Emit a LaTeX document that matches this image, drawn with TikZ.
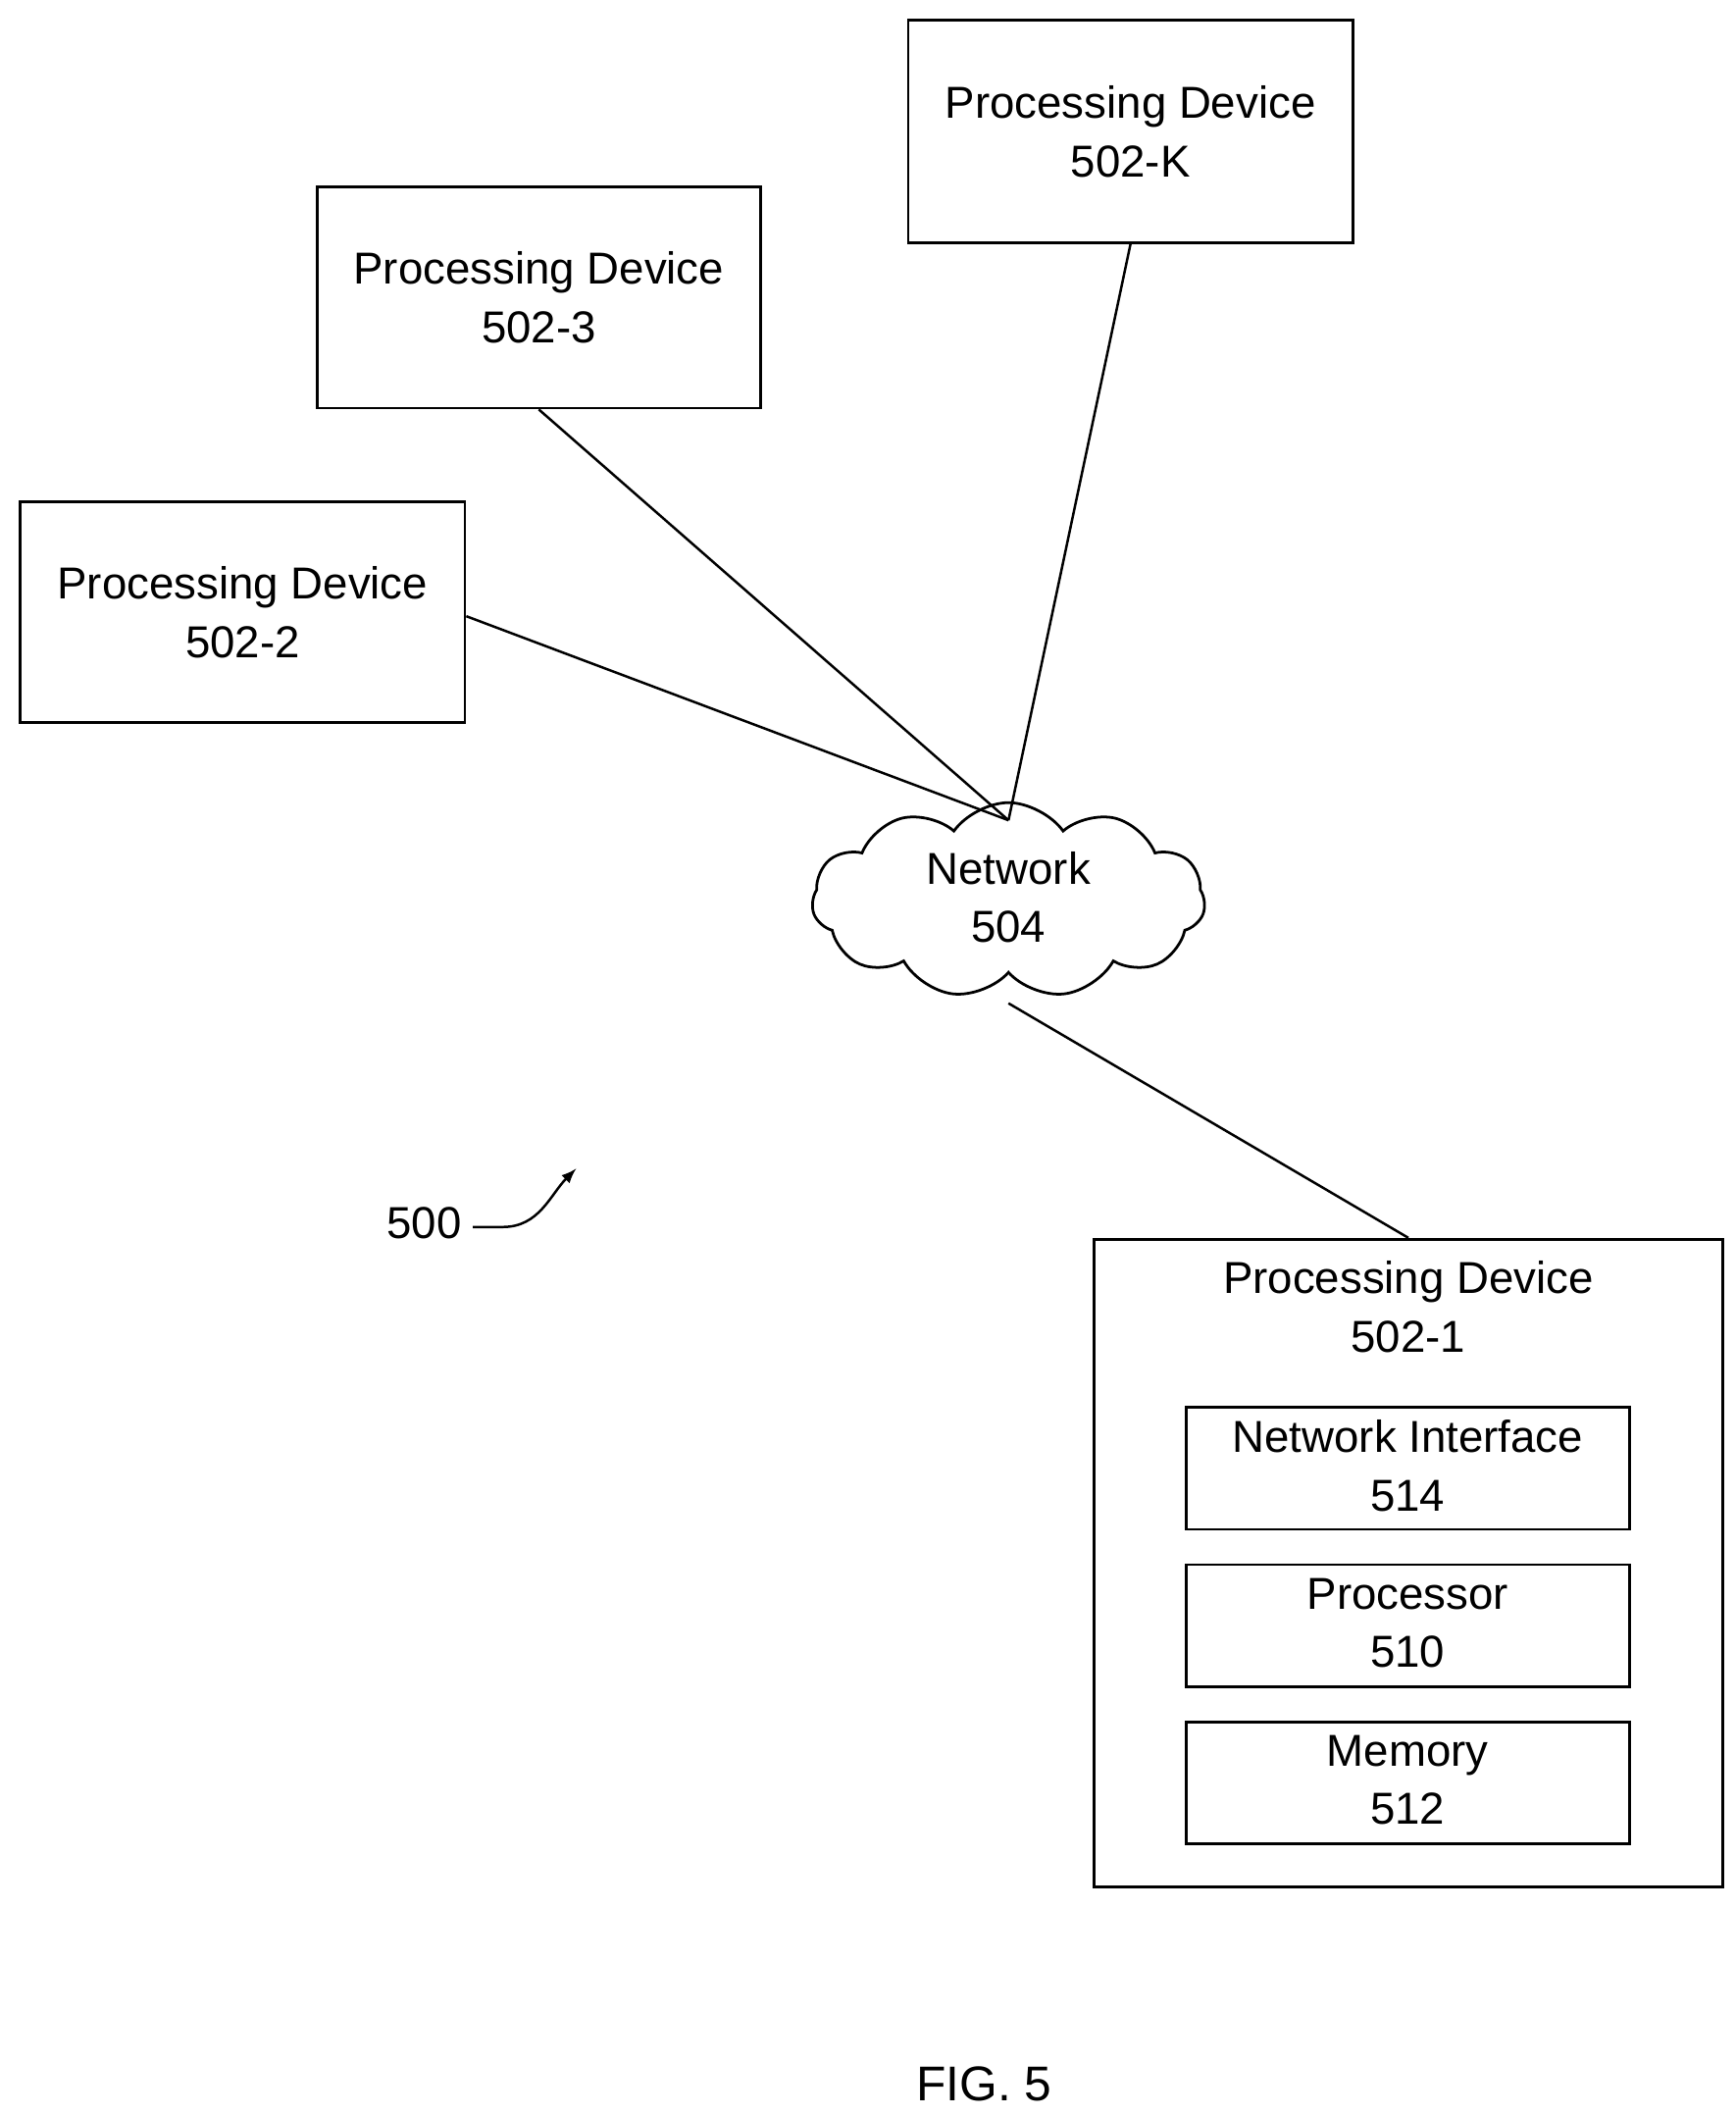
\documentclass[tikz,border=0pt]{standalone}
\usepackage{fontspec}
\setmainfont{Liberation Sans}
\usetikzlibrary{shapes.symbols}
\begin{document}
\begin{tikzpicture}[x=0.5pt,y=-0.5pt,
  box/.style={draw,line width=1pt,inner sep=0pt},
  lbl/.style={font=\fontsize{16.5}{21.5}\selectfont,align=center,inner sep=0pt},
  conn/.style={line width=0.9pt}]
\useasboundingbox (0,0) rectangle (1280,1560);
\node[box,minimum width=164pt,minimum height=82pt] (k) at (834,97) {};
\node[lbl] at (834,97) {Processing Device\\502-K};
\node[box,minimum width=163.5pt,minimum height=81.5pt] (d3) at (397.5,219.5) {};
\node[lbl] at (397.5,219.5) {Processing Device\\502-3};
\node[box,minimum width=164pt,minimum height=81.5pt] (d2) at (179,451.5) {};
\node[lbl] at (179,451.5) {Processing Device\\502-2};
\node[cloud,draw,line width=1pt,cloud puffs=11,cloud puff arc=110,aspect=2,minimum width=145pt,minimum height=72pt] (net) at (744,664) {};
\node[lbl] at (744,662) {Network\\504};
\coordinate (ntop) at (744,605);
\coordinate (nbot) at (744,740);
\node[box,minimum width=232pt,minimum height=239pt] (d1) at (1039,1153) {};
\node[lbl] at (1039,964) {Processing Device\\502-1};
\node[box,minimum width=163.5pt,minimum height=45pt] (ni) at (1038.5,1083) {};
\node[lbl] at (1038.5,1081) {Network Interface\\514};
\node[box,minimum width=163.5pt,minimum height=45pt] (pr) at (1038.5,1199) {};
\node[lbl] at (1038.5,1197) {Processor\\510};
\node[box,minimum width=163.5pt,minimum height=45pt] (me) at (1038.5,1315) {};
\node[lbl] at (1038.5,1313) {Memory\\512};
\draw[conn] (d2.east) ++(0,3) -- (ntop);
\draw[conn] (d3.south) -- (ntop);
\draw[conn] (k.south) -- (ntop);
\draw[conn] (nbot) -- (d1.north);
\node[lbl] (l500) at (313,902) {500};
\coordinate (a500) at (425,862);
\draw[conn,-latex] (l500.east) ++(8,3) -- ++(22,0) to[out=0,in=225] (a500);
\node[lbl,font=\fontsize{18}{22}\selectfont] (fig) at (726,1537) {FIG. 5};
\end{tikzpicture}
\end{document}
